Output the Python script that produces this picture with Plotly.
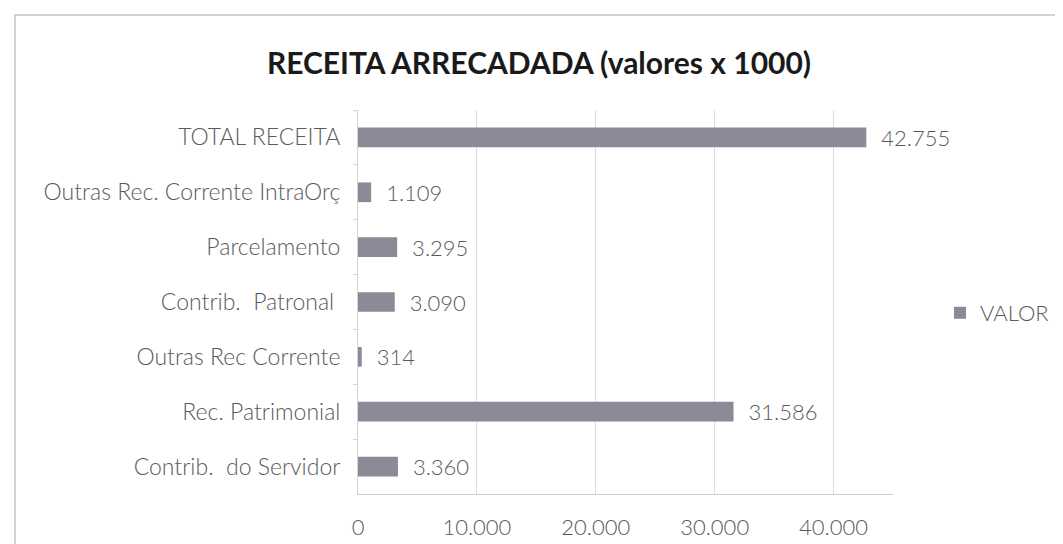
import plotly.graph_objects as go

categories = [
    "TOTAL RECEITA",
    "Outras Rec. Corrente IntraOrç",
    "Parcelamento",
    "Contrib.\u00a0 Patronal\u00a0",
    "Outras Rec Corrente",
    "Rec. Patrimonial",
    "Contrib.\u00a0 do Servidor",
]
valor = [42755, 1109, 3295, 3090, 314, 31586, 3360]
x_ticks = [0, 10000, 20000, 30000, 40000]
series_name = "VALOR"
title_text = "<b>RECEITA ARRECADADA (valores x 1000)</b>"

W, H = 1063, 544
L, R, T, B = 350, 885, 102, 486  # plot-area pixel box
pw, ph = R - L, B - T

label_font = dict(family="Lato, Open Sans, sans-serif", size=22, color="#5a5a5a", weight=300)
cat_font = dict(family="Lato, Open Sans, sans-serif", size=23, color="#5a5a5a", weight=300)

fig = go.Figure()
fig.add_trace(go.Bar(
    y=categories, x=valor, orientation="h", name=series_name,
    marker=dict(color="#8d8996", line=dict(width=0)),
    texttemplate="\u00a0\u00a0%{x:,d}", textposition="outside", constraintext="none",
    textfont=label_font, cliponaxis=False, showlegend=True,
))

def px_x(p):
    return (p - L) / pw

def px_y(p):
    return (B - p) / ph

fig.update_layout(
    width=W, height=H,
    margin=dict(l=L, r=W - R, t=T, b=H - B, pad=0),
    paper_bgcolor="white", plot_bgcolor="white",
    separators=",.",
    bargap=0.64,
    title=dict(text=title_text, x=531 / W, xanchor="center", y=1 - 55 / H, yanchor="middle",
               font=dict(family="Lato, Liberation Sans, sans-serif", size=30, color="#1a1a1a")),
    xaxis=dict(range=[0, 45000], tickvals=x_ticks, tickformat=",d",
               showgrid=True, gridcolor="#dcdcdc", gridwidth=1,
               zeroline=False, showline=True, linecolor="#cfcfcf", linewidth=1,
               ticks="", ticklabelstandoff=14, tickfont=label_font),
    yaxis=dict(autorange="reversed", showgrid=False, zeroline=False,
               showline=True, linecolor="#d4d4d4", linewidth=1,
               ticks="outside", tickson="boundaries", ticklen=4, tickcolor="#d4d4d4",
               ticklabelstandoff=12, tickfont=cat_font),
    legend=dict(x=px_x(932), y=px_y(305), xanchor="left", yanchor="middle",
                font=label_font, bgcolor="rgba(0,0,0,0)", itemwidth=30),
    shapes=[dict(type="rect", xref="paper", yref="paper",
                 x0=px_x(7), x1=px_x(1052), y0=px_y(570), y1=px_y(7),
                 line=dict(color="#c4c4c4", width=1.5), fillcolor="rgba(0,0,0,0)", layer="below")],
)

fig.write_html("out.html")
